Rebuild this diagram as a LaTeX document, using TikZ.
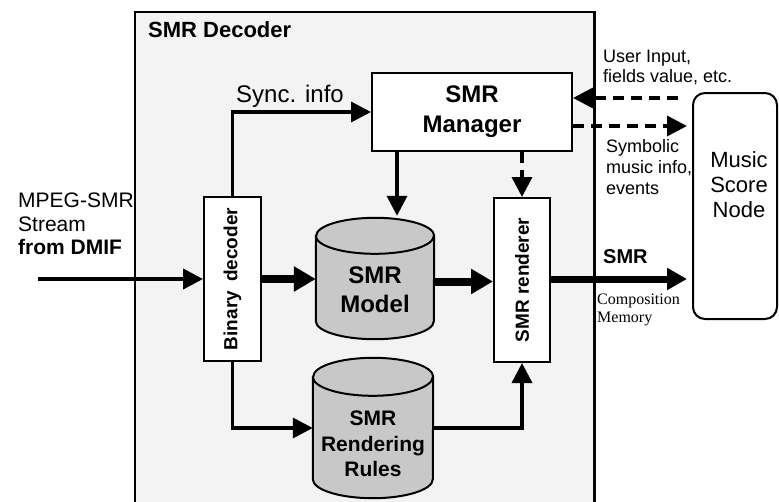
\documentclass[tikz,border=0pt]{standalone}
\usepackage{fontspec}
\setmainfont{Liberation Sans}
\newfontfamily\tnr{Liberation Serif}
\usetikzlibrary{arrows.meta,calc}
\definecolor{decfill}{RGB}{243,243,243}
\definecolor{cylfill}{RGB}{200,200,200}
\begin{document}
\begin{tikzpicture}[x=1pt,y=-1pt,
  box/.style={draw,line width=2pt,fill=white,inner sep=0pt},
  ghost/.style={inner sep=0pt},
  cylbody/.style={draw,line width=2pt,fill=cylfill},
  arr/.style={line width=3.5pt,-{Triangle[length=20pt,width=20pt]}},
  fatarr/.style={line width=8pt,-{Triangle[length=22pt,width=24pt]}},
  outarr/.style={line width=7pt,-{Triangle[length=20pt,width=21pt]}},
  dasharr/.style={arr,dash pattern=on 11pt off 7pt},
  lbl/.style={inner sep=0pt,align=left},
  vtext/.style={rotate=90,font=\bfseries\fontsize{19}{23}\selectfont},
]
\useasboundingbox (0,0) rectangle (779,501);

% decoder frame
\node[ghost,fill=decfill,minimum width=459pt,minimum height=495pt,anchor=north west] (decoder) at (135,12) {};
\draw[line width=2.5pt] (decoder.south west) -- (decoder.north west) -- (decoder.north east) -- (decoder.south east);
\node[lbl,anchor=base west,font=\bfseries\fontsize{22}{26}\selectfont] (dectitle) at (148,37) {SMR Decoder};

% boxes
\node[box,minimum width=200pt,minimum height=78pt,align=center,font=\bfseries\fontsize{24}{30}\selectfont] (manager) at (472,112) {SMR\\Manager};
\node[box,minimum width=57pt,minimum height=164pt] (binary) at (232.5,279) {};
\node[vtext] (binarytext) at (binary.center) {Binary\hspace{9pt}decoder};
\node[box,minimum width=56pt,minimum height=164pt] (renderer) at (522,280) {};
\node[vtext] (renderertext) at (renderer.center) {SMR renderer};
\node[draw,line width=2pt,fill=white,rounded corners=12pt,minimum width=84pt,minimum height=226pt] (music) at (735,206) {};
\node[align=center,inner sep=0pt,font=\fontsize{22}{25}\selectfont] (musictext) at (739,185) {Music\\Score\\Node};

% cylinders
\node[ghost,minimum width=118pt,minimum height=121pt] (model) at (375,278.5) {};
\draw[cylbody] ([yshift=-18pt]model.north west) -- ([yshift=18pt]model.south west)
  arc (180:360:59pt and 18pt) -- ([yshift=-18pt]model.north east)
  arc (0:180:59pt and 18pt) -- cycle;
\draw[line width=2pt] ([yshift=-18pt]model.north west) arc (180:360:59pt and 18pt);
\node[align=center,inner sep=0pt,font=\bfseries\fontsize{24}{29}\selectfont] (modeltext) at (375,290) {SMR\\Model};

\node[ghost,minimum width=120pt,minimum height=140pt] (rules) at (373,428) {};
\draw[cylbody] ([yshift=-19pt]rules.north west) -- ([yshift=19pt]rules.south west)
  arc (180:360:60pt and 19pt) -- ([yshift=-19pt]rules.north east)
  arc (0:180:60pt and 19pt) -- cycle;
\draw[line width=2pt] ([yshift=-19pt]rules.north west) arc (180:360:60pt and 19pt);
\node[align=center,inner sep=0pt,font=\bfseries\fontsize{21}{25.5}\selectfont] (rulestext) at (373,444) {SMR\\Rendering\\Rules};

% labels
\node[lbl,anchor=base west,font=\fontsize{24}{28}\selectfont] (sync) at (236,102) {Sync. info};
\node[lbl,anchor=north west,font=\fontsize{21}{23.5}\selectfont] (stream) at (18,193) {MPEG-SMR\\Stream\\\textbf{from DMIF}};
\node[lbl,anchor=north west,font=\fontsize{18}{20}\selectfont] (userin) at (603,50) {User Input,\\fields value, etc.};
\node[lbl,anchor=north west,font=\fontsize{18}{21}\selectfont] (symb) at (606,139) {Symbolic\\music info,\\events};
\node[lbl,anchor=base west,font=\bfseries\fontsize{20}{24}\selectfont] (smrout) at (603,263) {SMR};
\node[lbl,anchor=north west,font=\tnr\fontsize{16}{18}\selectfont] (compmem) at (597,294) {Composition\\Memory};

% connectors
\coordinate (instart) at (38,279);
\draw[arr,line width=4pt] (instart) -- (binary.west);
\draw[fatarr] (binary.east) -- (binary.east -| model.west);
\draw[fatarr] ([yshift=-3pt]model.east) -- ([yshift=-3pt]model.east -| renderer.west);
\draw[arr] (binary.north) |- (manager.west);
\coordinate (mx) at (397,0);
\draw[arr] (manager.south -| mx) -- ([yshift=2pt]model.north -| mx);
\draw[dasharr] (manager.south -| renderer.north) -- (renderer.north);
\draw[arr] (binary.south) |- (rules.west);
\draw[arr] ([xshift=-1pt]rules.east) -| (renderer.south);
\coordinate (uin) at (678,98);
\draw[dasharr] (uin) -- (uin -| manager.east);
\coordinate (symend) at (687,126);
\draw[dasharr] (manager.east |- symend) -- (symend);
\draw[outarr] ([yshift=1pt]renderer.east) -- ([yshift=1pt,xshift=-5pt]renderer.east -| music.west);
\end{tikzpicture}
\end{document}
